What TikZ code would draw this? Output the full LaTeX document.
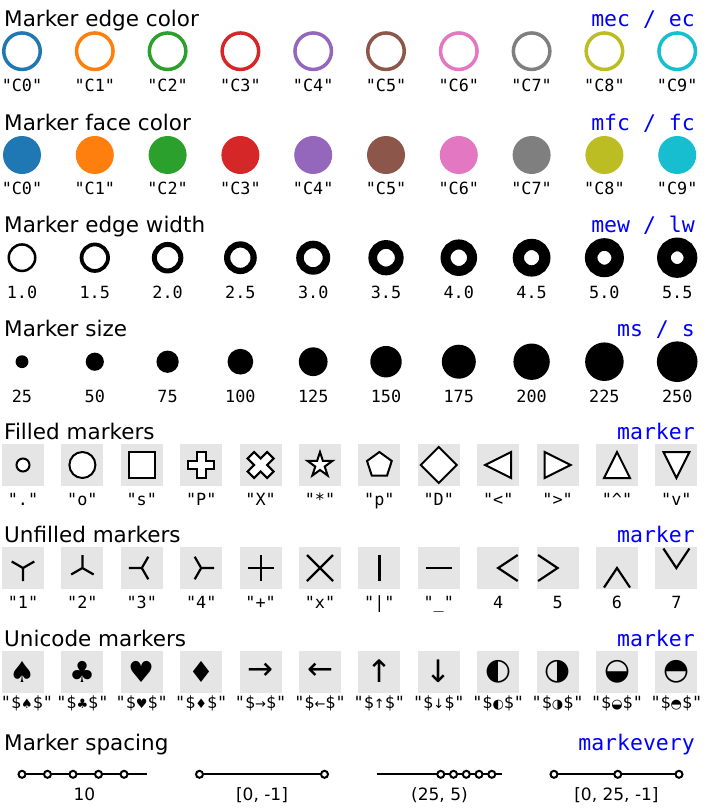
\documentclass[tikz,border=0pt]{standalone}
\usepackage{fontspec}
\setmainfont{DejaVu Sans}
\setmonofont{DejaVu Sans Mono}
\newfontfamily\symfont{DejaVu Sans}
\usepackage{graphicx}
\usepackage{tikz}

\definecolor{C0}{HTML}{1F77B4}
\definecolor{C1}{HTML}{FF7F0E}
\definecolor{C2}{HTML}{2CA02C}
\definecolor{C3}{HTML}{D62728}
\definecolor{C4}{HTML}{9467BD}
\definecolor{C5}{HTML}{8C564B}
\definecolor{C6}{HTML}{E377C2}
\definecolor{C7}{HTML}{7F7F7F}
\definecolor{C8}{HTML}{BCBD22}
\definecolor{C9}{HTML}{17BECF}

% glyph scaled so that its larger side is 26pt
\newsavebox\glyphbox
\newcommand\fitglyph[1]{\sbox\glyphbox{\symfont #1}%
  \ifdim\wd\glyphbox>\dimexpr\ht\glyphbox+\dp\glyphbox\relax
    \resizebox{26pt}{!}{\usebox\glyphbox}%
  \else\resizebox*{!}{26pt}{\usebox\glyphbox}\fi}
\newcommand\glyphlbl[1]{"\${\symfont\fontsize{13}{15}\selectfont #1}\$"}

\begin{document}
\begin{tikzpicture}[x=1pt,y=-1pt,
  ttl/.style={anchor=base west,inner sep=0pt,font=\fontsize{21.5}{24}\selectfont},
  key/.style={anchor=base east,inner sep=0pt,text=blue,font=\ttfamily\fontsize{21.5}{24}\selectfont},
  lbl/.style={anchor=base,inner sep=0pt,font=\ttfamily\fontsize{16.8}{19}\selectfont},
  slbl/.style={anchor=base,inner sep=0pt,font=\fontsize{17}{19}\selectfont},
  ring/.style={circle,inner sep=0pt,line width=3.5pt,minimum size=36.5pt},
  disc/.style={circle,inner sep=0pt,fill=black},
  cell/.style={fill=gray!20,inner sep=0pt,minimum size=42pt},
  mk/.style={shift={#1},yscale=-1},
  fmk/.style={draw=black,fill=white,line width=2pt,line join=miter},
  umk/.style={draw=black,line width=2.2pt,line join=miter},
  spline/.style={draw=black,line width=2.2pt},
  dot/.style={circle,draw=black,fill=white,line width=2pt,minimum size=7pt,inner sep=0pt}]
  \useasboundingbox (0,0) rectangle (707,811);

  % marker edge color
  \node[ttl] (t1) at (4,26.7) {Marker edge color};
  \node[key] (k1) at (695,26.7) {mec / ec};
  \foreach \i in {0,...,9}{
    \node[ring,draw=C\i] (ec\i) at (22+72.8*\i,51.2) {};
    \node[lbl] (ecl\i) at (22+72.8*\i,91) {"C\i"};
  }

  % marker face color
  \node[ttl] (t2) at (4,130) {Marker face color};
  \node[key] (k2) at (695,130) {mfc / fc};
  \foreach \i in {0,...,9}{
    \node[circle,inner sep=0pt,minimum size=38pt,fill=C\i] (fc\i) at (22+72.8*\i,155) {};
    \node[lbl] (fcl\i) at (22+72.8*\i,194.3) {"C\i"};
  }

  % marker edge width
  \node[ttl] (t3) at (4,232.7) {Marker edge width};
  \node[key] (k3) at (695,232.7) {mew / lw};
  \foreach \i/\w [evaluate=\w as \lw using 2.5*\w] in {0/1.0,1/1.5,2/2.0,3/2.5,4/3.0,5/3.5,6/4.0,7/4.5,8/5.0,9/5.5}{
    \node[circle,draw,inner sep=0pt,minimum size=26.5pt,line width=\lw pt] (ew\i) at (22+72.8*\i,257.7) {};
    \node[lbl] (ewl\i) at (22+72.8*\i,298.3) {\w};
  }

  % marker size
  \node[ttl] (t4) at (4,336) {Marker size};
  \node[key] (k4) at (695,336) {ms / s};
  \foreach \i [evaluate=\i as \s using int(25*(\i+1)), evaluate=\i as \d using 2.57*sqrt(25*(\i+1))] in {0,...,9}{
    \node[disc,minimum size=\d pt] (ms\i) at (22+72.8*\i,361.7) {};
    \node[lbl] (msl\i) at (22+72.8*\i,402.7) {\s};
  }

  % filled markers
  \node[ttl] (t5) at (4,439) {Filled markers};
  \node[key] (k5) at (695,439) {marker};
  \foreach \j/\t in {0/{"."},1/{"o"},2/{"s"},3/{"P"},4/{"X"},5/{"*"},6/{"p"},7/{"D"},8/{"<"},9/{">"},10/{"\textasciicircum"},11/{"v"}}{
    \node[cell] (fm\j) at (23+59.4*\j,465) {};
    \node[lbl] (fml\j) at (23+59.4*\j,505) {\t};
  }
  \draw[fmk,mk=(fm0)] (0,0) circle (6.5);
  \draw[fmk,mk=(fm1)] (0,0) circle (13);
  \draw[fmk,mk=(fm2)] (-13,-13) rectangle (13,13);
  \draw[fmk,mk=(fm3),scale=4.333] (-1,-3) -- (1,-3) -- (1,-1) -- (3,-1) -- (3,1) -- (1,1) -- (1,3)
    -- (-1,3) -- (-1,1) -- (-3,1) -- (-3,-1) -- (-1,-1) -- cycle;
  \draw[fmk,mk=(fm4),scale=6.5] (-1,-2) -- (0,-1) -- (1,-2) -- (2,-1) -- (1,0) -- (2,1) -- (1,2)
    -- (0,1) -- (-1,2) -- (-2,1) -- (-1,0) -- (-2,-1) -- cycle;
  \draw[fmk,mk=(fm5)] (90:13) -- (126:4.97) -- (162:13) -- (198:4.97) -- (234:13) -- (270:4.97)
    -- (306:13) -- (342:4.97) -- (18:13) -- (54:4.97) -- cycle;
  \draw[fmk,mk=(fm6)] (90:13) -- (162:13) -- (234:13) -- (306:13) -- (18:13) -- cycle;
  \draw[fmk,mk=(fm7)] (0,18) -- (18,0) -- (0,-18) -- (-18,0) -- cycle;
  \draw[fmk,mk=(fm8)] (-13,0) -- (13,13) -- (13,-13) -- cycle;
  \draw[fmk,mk=(fm9)] (13,0) -- (-13,13) -- (-13,-13) -- cycle;
  \draw[fmk,mk=(fm10)] (0,13) -- (-13,-13) -- (13,-13) -- cycle;
  \draw[fmk,mk=(fm11)] (0,-13) -- (-13,13) -- (13,13) -- cycle;

  % unfilled markers
  \node[ttl] (t6) at (4,542.7) {Unfilled markers};
  \node[key] (k6) at (695,542.7) {marker};
  \foreach \j/\t in {0/{"1"},1/{"2"},2/{"3"},3/{"4"},4/{"+"},5/{"x"},6/{"|"},7/{"\_"},8/4,9/5,10/6,11/7}{
    \node[cell] (um\j) at (23+59.4*\j,568) {};
    \node[lbl] (uml\j) at (23+59.4*\j,608) {\t};
  }
  \draw[umk,mk=(um0)] (0,0) -- (0,-13) (0,0) -- (11.26,6.5) (0,0) -- (-11.26,6.5);
  \draw[umk,mk=(um1)] (0,0) -- (0,13) (0,0) -- (11.26,-6.5) (0,0) -- (-11.26,-6.5);
  \draw[umk,mk=(um2)] (0,0) -- (-13,0) (0,0) -- (6.5,11.26) (0,0) -- (6.5,-11.26);
  \draw[umk,mk=(um3)] (0,0) -- (13,0) (0,0) -- (-6.5,11.26) (0,0) -- (-6.5,-11.26);
  \draw[umk,mk=(um4)] (-13,0) -- (13,0) (0,-13) -- (0,13);
  \draw[umk,mk=(um5)] (-13,-13) -- (13,13) (-13,13) -- (13,-13);
  \draw[umk,mk=(um6)] (0,-13) -- (0,13);
  \draw[umk,mk=(um7)] (-13,0) -- (13,0);
  \draw[umk,mk=(um8)] (19.5,13) -- (0,0) -- (19.5,-13);
  \draw[umk,mk=(um9)] (-19.5,13) -- (0,0) -- (-19.5,-13);
  \draw[umk,mk=(um10)] (-13,-19.5) -- (0,0) -- (13,-19.5);
  \draw[umk,mk=(um11)] (-13,19.5) -- (0,0) -- (13,19.5);

  % unicode markers
  \node[ttl] (t7) at (4,646) {Unicode markers};
  \node[key] (k7) at (695,646) {marker};
  \foreach \j/\g [evaluate=\j as \lx using {max(23+59.4*\j,27)}] in {0/♠,1/♣,2/♥,3/♦,4/→,5/←,6/↑,7/↓,8/◐,9/◑,10/◒,11/◓}{
    \node[cell] (uc\j) at (23+59.4*\j,671.5) {};
    \node[inner sep=0pt] (ucg\j) at (uc\j) {\fitglyph{\g}};
    \node[lbl] (ucl\j) at (\lx,708.5) {\glyphlbl{\g}};
  }

  % marker spacing
  \node[ttl] (t8) at (4,750.5) {Marker spacing};
  \node[key] (k8) at (695,750.5) {markevery};
  \coordinate (sa0) at (22,774.3);  \coordinate (sb0) at (147,774.3);
  \coordinate (sa1) at (199.5,774.3); \coordinate (sb1) at (324.5,774.3);
  \coordinate (sa2) at (377,774.3); \coordinate (sb2) at (502,774.3);
  \coordinate (sa3) at (554,774.3); \coordinate (sb3) at (679,774.3);
  \draw[spline] (sa0) -- (sb0)
    \foreach \k [evaluate=\k as \p using \k/49] in {0,10,20,30,40}{node[dot,pos=\p] (da\k) {}};
  \draw[spline] (sa1) -- (sb1) node[dot,pos=0] (db0) {} node[dot,pos=1] (db1) {};
  \draw[spline] (sa2) -- (sb2)
    \foreach \k [evaluate=\k as \p using \k/49] in {25,30,35,40,45}{node[dot,pos=\p] (dc\k) {}};
  \draw[spline] (sa3) -- (sb3) node[dot,pos=0] (dd0) {} node[dot,pos=25/49] (dd1) {} node[dot,pos=1] (dd2) {};
  \node[slbl] (sl0) at (84.5,800) {10};
  \node[slbl] (sl1) at (262,800) {[0, -1]};
  \node[slbl] (sl2) at (439.5,800) {(25, 5)};
  \node[slbl] (sl3) at (616.5,800) {[0, 25, -1]};
\end{tikzpicture}
\end{document}
